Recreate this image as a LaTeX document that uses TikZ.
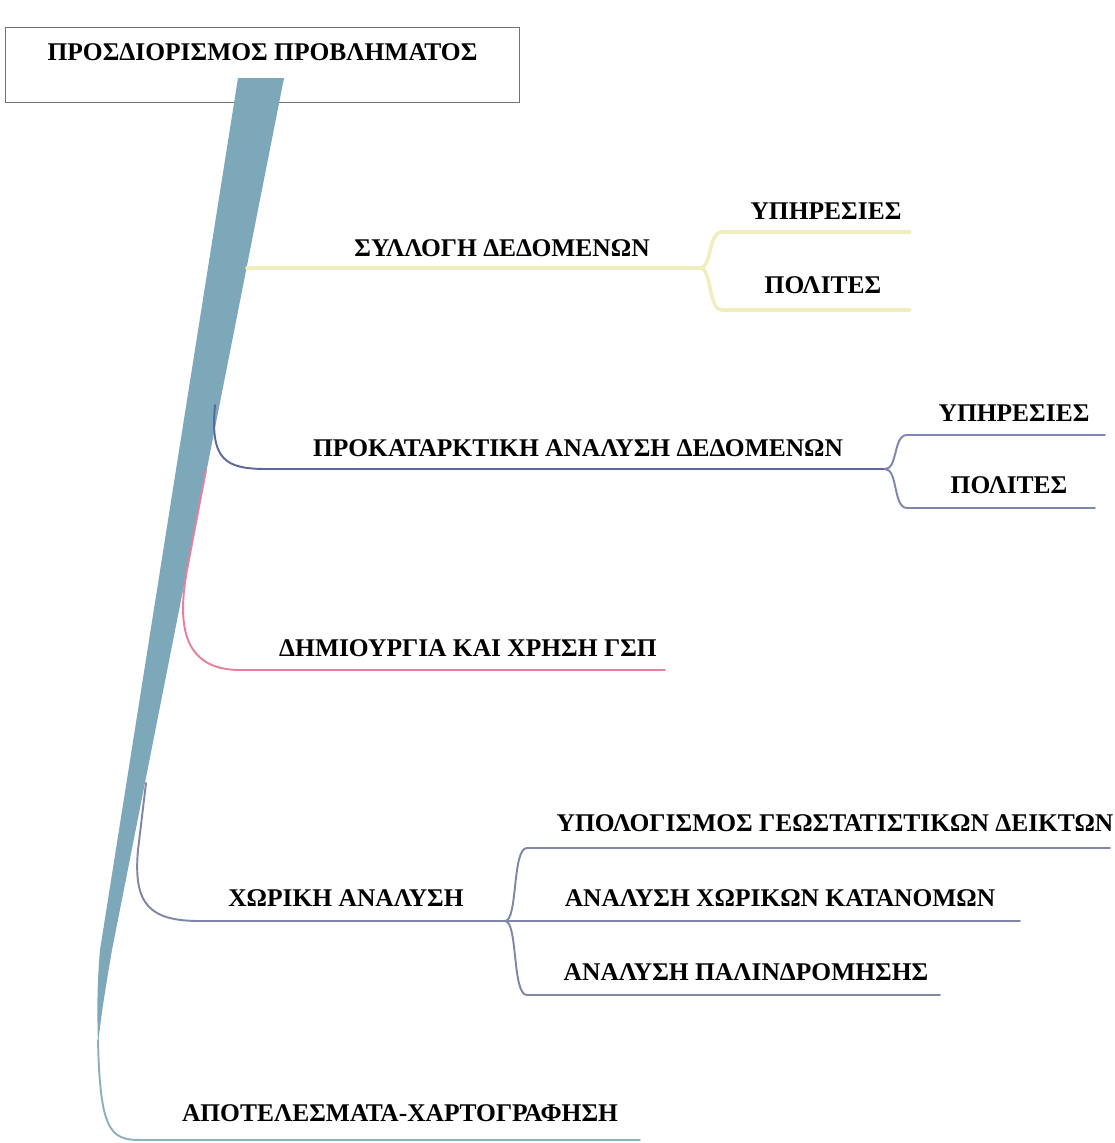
\documentclass[tikz,border=0pt]{standalone}
\usepackage{fontspec}
\setmainfont{Liberation Serif}
\definecolor{trunkc}{RGB}{125,168,186}
\definecolor{yelc}{RGB}{240,238,190}
\definecolor{slatec}{RGB}{95,102,158}
\definecolor{pinkc}{RGB}{232,128,155}
\definecolor{grayc}{RGB}{128,134,166}
\definecolor{botc}{RGB}{140,176,192}
\begin{document}
\begin{tikzpicture}[x=0.02cm, y=-0.02cm,
  lbl/.style={font=\fontsize{14.5}{16}\selectfont\bfseries, inner sep=0pt},
  twig/.style={line width=1.1pt, line cap=round},
  rootbox/.style={draw=black!55, line width=0.6pt, font=\fontsize{14.5}{16}\selectfont\bfseries,
    minimum width=10.3cm, inner xsep=0pt, inner ysep=0pt, text height=19pt, text depth=24pt}]
\useasboundingbox (0,0) rectangle (1115,1143);

\node[rootbox] (root) at (262.5,65) {ΠΡΟΣΔΙΟΡΙΣΜΟΣ ΠΡΟΒΛΗΜΑΤΟΣ};
\fill[trunkc] (238,78) -- (284,78) -- (112,950) .. controls (106,985) and (101,1015) .. (98,1045)
  .. controls (97,1010) and (97,985) .. (100,950) -- cycle;

\coordinate (t1) at (247,268);
\coordinate (t2) at (215,405);
\coordinate (t3) at (206,470);
\coordinate (t4) at (146,783);
\coordinate (t5) at (98,1040);
\coordinate (f1) at (700,268);
\coordinate (f2) at (885,469);
\coordinate (f4) at (505,921);

\draw[twig, yelc, line width=2pt] (t1) -- (f1);
\draw[twig, yelc, line width=2pt] (f1) .. controls (712,268) and (708,232) .. (722,232) -- (910,232);
\draw[twig, yelc, line width=2pt] (f1) .. controls (712,268) and (708,310) .. (722,310) -- (910,310);
\draw[twig, slatec] (t2) .. controls (210,460) and (225,469) .. (267,469) -- (f2);
\draw[twig, slatec!80] (f2) .. controls (898,469) and (893,435) .. (907,435) -- (1105,435);
\draw[twig, slatec!80] (f2) .. controls (898,469) and (893,508) .. (907,508) -- (1095,508);
\draw[twig, pinkc] (t3) -- (187,570) .. controls (178,620) and (180,670) .. (240,670) -- (665,670);
\draw[twig, grayc] (t4) -- (138,850) .. controls (133,905) and (150,921) .. (200,921) -- (f4);
\draw[twig, grayc] (f4) .. controls (518,921) and (512,848) .. (527,848) -- (1110,848);
\draw[twig, grayc] (f4) -- (1020,921);
\draw[twig, grayc] (f4) .. controls (518,921) and (512,995) .. (527,995) -- (940,995);
\draw[twig, botc] (t5) .. controls (100,1130) and (110,1140) .. (140,1140) -- (640,1140);

\node[lbl] (syl) at (502,248) {ΣΥΛΛΟΓΗ ΔΕΔΟΜΕΝΩΝ};
\node[lbl] (syl1) at (826,211) {ΥΠΗΡΕΣΙΕΣ};
\node[lbl] (syl2) at (823,285) {ΠΟΛΙΤΕΣ};
\node[lbl] (pka) at (578,448) {ΠΡΟΚΑΤΑΡΚΤΙΚΗ ΑΝΑΛΥΣΗ ΔΕΔΟΜΕΝΩΝ};
\node[lbl] (pka1) at (1014,413) {ΥΠΗΡΕΣΙΕΣ};
\node[lbl] (pka2) at (1009,485) {ΠΟΛΙΤΕΣ};
\node[lbl] (gsp) at (468,648) {ΔΗΜΙΟΥΡΓΙΑ ΚΑΙ ΧΡΗΣΗ ΓΣΠ};
\node[lbl] (xan) at (346,898) {ΧΩΡΙΚΗ ΑΝΑΛΥΣΗ};
\node[lbl] (xan1) at (835,823) {ΥΠΟΛΟΓΙΣΜΟΣ ΓΕΩΣΤΑΤΙΣΤΙΚΩΝ ΔΕΙΚΤΩΝ};
\node[lbl] (xan2) at (780,898) {ΑΝΑΛΥΣΗ ΧΩΡΙΚΩΝ ΚΑΤΑΝΟΜΩΝ};
\node[lbl] (xan3) at (746,972) {ΑΝΑΛΥΣΗ ΠΑΛΙΝΔΡΟΜΗΣΗΣ};
\node[lbl] (apo) at (400,1113) {ΑΠΟΤΕΛΕΣΜΑΤΑ-ΧΑΡΤΟΓΡΑΦΗΣΗ};
\end{tikzpicture}
\end{document}
